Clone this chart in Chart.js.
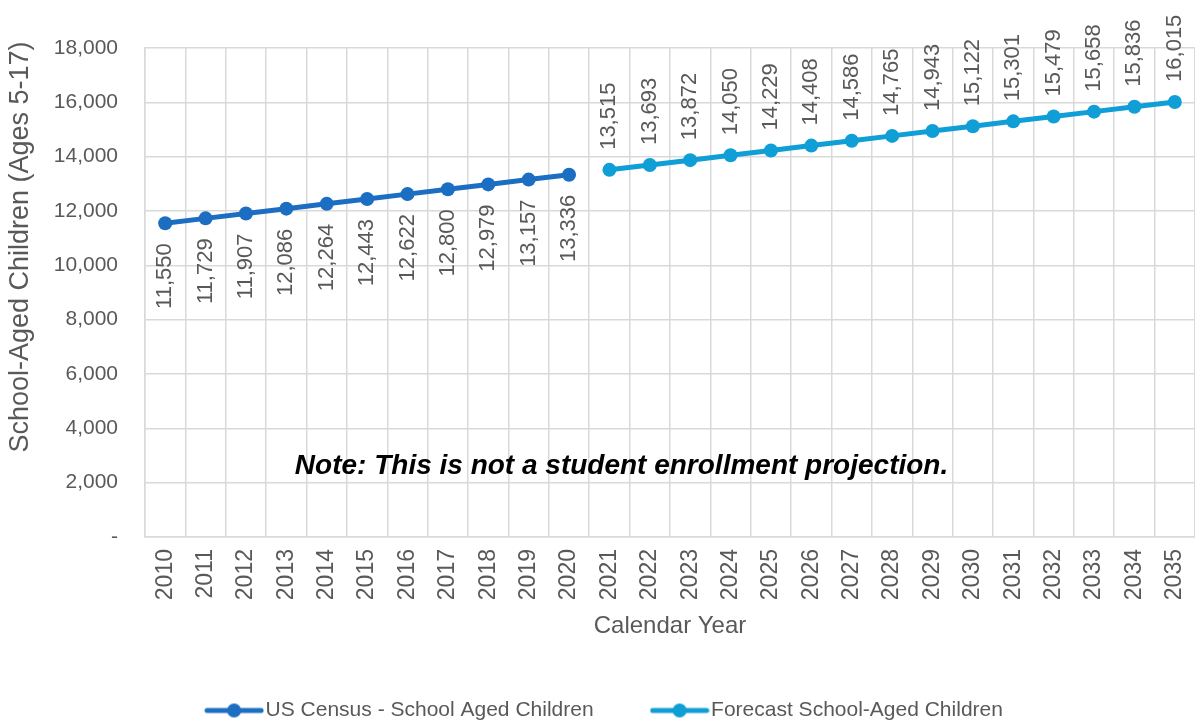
<!DOCTYPE html>
<html>
<head>
<meta charset="utf-8">
<script src="https://cdn.jsdelivr.net/npm/chart.js@4.4.1/dist/chart.umd.min.js"></script>
<style>
  body { margin: 0; background: #fff; }
</style>
</head>
<body>
<canvas id="myChart" width="1195" height="724"></canvas>
<script>
const years = ['2010','2011','2012','2013','2014','2015','2016','2017','2018','2019','2020',
  '2021','2022','2023','2024','2025','2026','2027','2028','2029','2030','2031','2032','2033','2034','2035'];
const censusYears = ['2010','2011','2012','2013','2014','2015','2016','2017','2018','2019','2020'];
const censusValues = [11550, 11729, 11907, 12086, 12264, 12443, 12622, 12800, 12979, 13157, 13336];
const forecastYears = ['2021','2022','2023','2024','2025','2026','2027','2028','2029','2030','2031','2032','2033','2034','2035'];
const forecastValues = [13515, 13693, 13872, 14050, 14229, 14408, 14586, 14765, 14943, 15122, 15301, 15479, 15658, 15836, 16015];
const noteText = 'Note: This is not a student enrollment projection.';
const yTitle = 'School-Aged Children (Ages 5-17)';

const darkBlue = '#1b6ec2';
const lightBlue = '#0f9ed5';
const gray = '#595959';
const sans = '"Liberation Sans", Arial, sans-serif';

// line up each series with the full list of years (null where it has no value)
function align(ys, vals) {
  return years.map(y => { const k = ys.indexOf(y); return k < 0 ? null : vals[k]; });
}

// little line + dot picture for the legend
function legendMark(color) {
  const c = document.createElement('canvas');
  c.width = 60; c.height = 16;
  const x = c.getContext('2d');
  x.strokeStyle = color; x.lineWidth = 5; x.lineCap = 'round';
  x.beginPath(); x.moveTo(3, 8); x.lineTo(57, 8); x.stroke();
  x.fillStyle = color;
  x.beginPath(); x.arc(30, 8, 7, 0, Math.PI * 2); x.fill();
  return c;
}
const legendMarks = [legendMark(darkBlue), legendMark(lightBlue)];

const valueLabels = {
  id: 'valueLabels',
  afterLayout(chart) {
    // legend sits a bit right of centre in the original
    chart.legend.left += 6;
    chart.legend.right += 6;
  },
  afterDatasetsDraw(chart) {
    const ctx = chart.ctx;
    ctx.save();
    ctx.font = '22px ' + sans;
    ctx.fillStyle = gray;
    ctx.textBaseline = 'middle';
    chart.data.datasets.forEach((ds, i) => {
      const meta = chart.getDatasetMeta(i);
      meta.data.forEach((pt, j) => {
        const v = ds.data[j];
        if (v == null) return;
        ctx.save();
        ctx.translate(pt.x, pt.y);
        ctx.rotate(-Math.PI / 2);
        if (i === 0) {
          ctx.textAlign = 'right';
          ctx.fillText(v.toLocaleString('en-US'), -20, 0);
        } else {
          ctx.textAlign = 'left';
          ctx.fillText(v.toLocaleString('en-US'), 20, 0);
        }
        ctx.restore();
      });
    });
    // note inside the plot
    const xs = chart.scales.x, ysc = chart.scales.y;
    ctx.font = 'bold italic 28px ' + sans;
    ctx.fillStyle = '#000';
    ctx.textAlign = 'center';
    ctx.fillText(noteText, xs.getPixelForValue(11.3), ysc.getPixelForValue(2600));
    // y axis title
    ctx.font = '27px ' + sans;
    ctx.fillStyle = gray;
    ctx.translate(21, 247);
    ctx.rotate(-Math.PI / 2);
    ctx.fillText(yTitle, 0, 0);
    ctx.restore();
  }
};

const graph = document.getElementById('myChart');

var lineGraph = new Chart(graph, {
  type: 'line',
  data: {
    labels: years,
    datasets: [{
      label: 'US Census - School Aged Children',
      data: align(censusYears, censusValues),
      borderColor: darkBlue,
      backgroundColor: darkBlue,
      borderWidth: 5,
      pointRadius: 7,
      pointBorderWidth: 0
    }, {
      label: 'Forecast School-Aged Children',
      data: align(forecastYears, forecastValues),
      borderColor: lightBlue,
      backgroundColor: lightBlue,
      borderWidth: 5,
      pointRadius: 7,
      pointBorderWidth: 0
    }]
  },
  options: {
    responsive: false,
    animation: false,
    layout: { autoPadding: false, padding: { top: 48, left: 6, right: -3, bottom: -7 } },
    scales: {
      x: {
        offset: true,
        afterFit: s => { s.paddingRight = 0; s.paddingLeft = 0; },
        grid: { offset: true, color: '#d9d9d9', lineWidth: 1.5, drawTicks: false },
        border: { color: '#d9d9d9', width: 1.5 },
        ticks: {
          color: gray, minRotation: 90, maxRotation: 90, padding: 12,
          font: { size: 23, family: sans }
        },
        title: {
          display: true, text: 'Calendar Year', color: gray,
          font: { size: 24, family: sans },
          padding: { top: 0, bottom: -6 }
        }
      },
      y: {
        min: 0, max: 18000,
        afterFit: s => { s.width = 139; },
        grid: { color: '#d9d9d9', lineWidth: 1.5, drawTicks: false },
        border: { color: '#d9d9d9', width: 1.5 },
        ticks: {
          stepSize: 2000, color: gray, padding: 27,
          font: { size: 21, family: sans },
          callback: v => v === 0 ? '-' : v.toLocaleString('en-US')
        }
      }
    },
    plugins: {
      legend: {
        position: 'bottom',
        labels: {
          usePointStyle: true,
          pointStyleWidth: 42,
          color: gray,
          padding: 65,
          font: { size: 21, family: sans },
          generateLabels(chart) {
            return chart.data.datasets.map((ds, i) => ({
              text: ds.label,
              fontColor: gray,
              pointStyle: legendMarks[i],
              datasetIndex: i,
              lineWidth: 0,
              hidden: false
            }));
          }
        }
      },
      tooltip: { enabled: false }
    }
  },
  plugins: [valueLabels]
});
</script>
</body>
</html>
